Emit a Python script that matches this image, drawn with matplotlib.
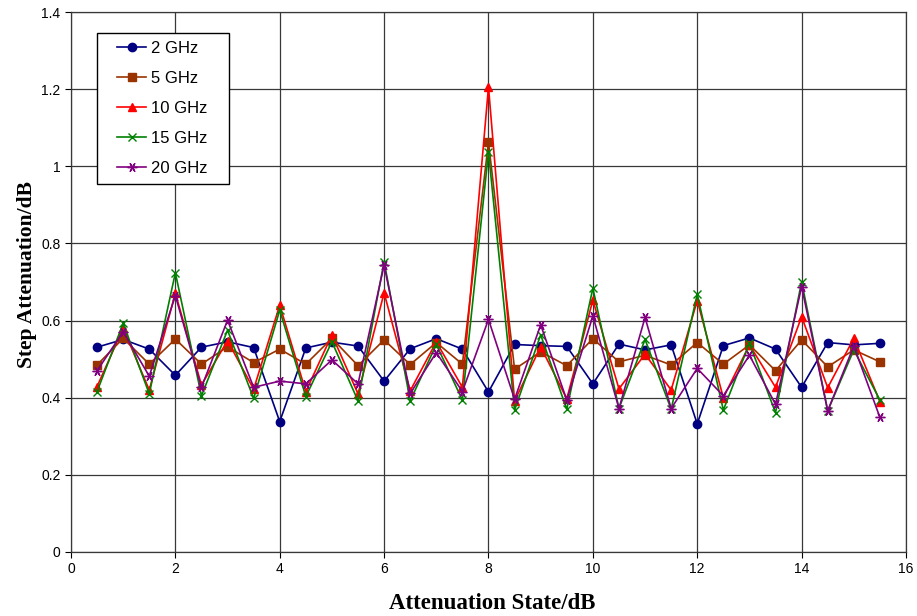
import numpy as np
import matplotlib.pyplot as plt
from matplotlib.patches import Rectangle

# Attenuation states (dB) and measured step attenuation at each frequency
state = np.arange(0.5, 16.0, 0.5)

att_2ghz = [0.531, 0.551, 0.526, 0.458, 0.531, 0.545, 0.530, 0.338, 0.529, 0.544,
            0.534, 0.443, 0.527, 0.553, 0.526, 0.415, 0.538, 0.535, 0.533, 0.436,
            0.539, 0.524, 0.537, 0.332, 0.535, 0.555, 0.526, 0.427, 0.543, 0.537, 0.541]
att_5ghz = [0.485, 0.554, 0.487, 0.552, 0.487, 0.532, 0.491, 0.526, 0.487, 0.554,
            0.483, 0.550, 0.486, 0.543, 0.487, 1.063, 0.474, 0.519, 0.483, 0.553,
            0.493, 0.510, 0.485, 0.543, 0.487, 0.537, 0.470, 0.550, 0.480, 0.524, 0.493]
att_10ghz = [0.429, 0.580, 0.420, 0.671, 0.433, 0.548, 0.422, 0.640, 0.416, 0.563,
             0.410, 0.672, 0.418, 0.545, 0.427, 1.206, 0.392, 0.532, 0.397, 0.653,
             0.423, 0.513, 0.420, 0.652, 0.400, 0.537, 0.427, 0.610, 0.426, 0.554, 0.390]
att_15ghz = [0.416, 0.593, 0.410, 0.724, 0.405, 0.575, 0.398, 0.627, 0.403, 0.545,
             0.392, 0.753, 0.392, 0.538, 0.394, 1.037, 0.368, 0.563, 0.370, 0.684,
             0.372, 0.551, 0.370, 0.668, 0.368, 0.541, 0.361, 0.701, 0.366, 0.524, 0.394]
att_20ghz = [0.470, 0.571, 0.456, 0.665, 0.427, 0.601, 0.427, 0.443, 0.436, 0.498,
             0.436, 0.744, 0.411, 0.517, 0.416, 0.603, 0.396, 0.589, 0.394, 0.612,
             0.372, 0.608, 0.372, 0.476, 0.405, 0.510, 0.383, 0.688, 0.366, 0.534, 0.349]

series = [
    ("2 GHz", att_2ghz, "#000080", "o", 6),
    ("5 GHz", att_5ghz, "#993300", "s", 5.5),
    ("10 GHz", att_10ghz, "#FF0000", "^", 6),
    ("15 GHz", att_15ghz, "#008000", "x", 6),
    ("20 GHz", att_20ghz, "#800080", (6, 2, 90), 7),
]

W, H = 917, 616
fig = plt.figure(figsize=(W / 100, H / 100), dpi=100)
ax = fig.add_axes([0.0774, 0.1039, 0.9106, 0.8766])

for name, vals, color, marker, ms in series:
    ax.plot(state, vals, color=color, marker=marker, markersize=ms,
            markeredgewidth=1.0, linewidth=1.2, label=name)

ax.set_xlim(0, 16)
ax.set_ylim(0, 1.4)
ax.set_xticks(np.arange(0, 17, 2))
ax.set_yticks(np.arange(0, 1.41, 0.2))
ax.set_yticklabels(["0", "0.2", "0.4", "0.6", "0.8", "1", "1.2", "1.4"])
ax.grid(True, color="#383838", linewidth=0.9)
ax.set_axisbelow(True)
for sp in ax.spines.values():
    sp.set_color("#383838")
    sp.set_linewidth(0.9)
ax.tick_params(direction="out", length=4, labelsize=10, colors="black")
for lbl in ax.get_xticklabels() + ax.get_yticklabels():
    lbl.set_family("Liberation Sans")

ax.set_xlabel("Attenuation State/dB", family="Liberation Serif",
              fontweight="bold", fontsize=16.5)
ax.set_ylabel("Step Attenuation/dB", family="Liberation Serif",
              fontweight="bold", fontsize=15.5)
ax.xaxis.set_label_coords(0.504, -0.076)
ax.yaxis.set_label_coords(-0.041, 0.513)

# legend box with wider side margins than the entries need
box = Rectangle((97 / W, 1 - 184 / H), 132 / W, 151 / H, transform=fig.transFigure,
                facecolor="white", edgecolor="black", linewidth=1.0, zorder=4,
                clip_on=False)
ax.add_patch(box)
leg = ax.legend(loc="upper left", bbox_to_anchor=(117 / W, 1 - 41 / H),
                bbox_transform=fig.transFigure, frameon=False,
                prop={"family": "Liberation Sans", "size": 12},
                borderaxespad=0, borderpad=0, handlelength=1.75,
                handletextpad=0.3, labelspacing=0.9)
leg.set_zorder(5)

fig.savefig("out.png", dpi=100)
